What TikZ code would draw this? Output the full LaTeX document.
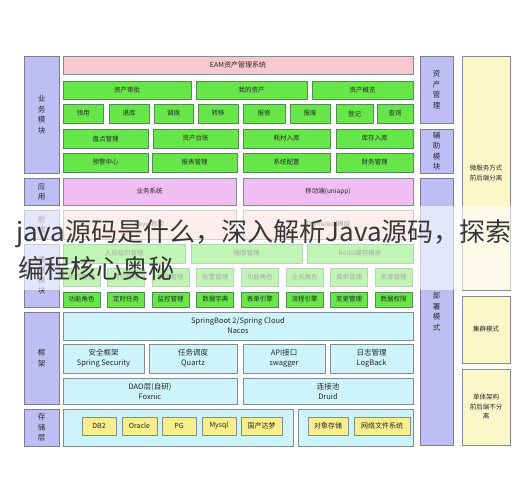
\documentclass[tikz,border=0pt]{standalone}
\usepackage{fontspec}
\setmainfont{Noto Sans CJK SC}
\usepackage{xcolor}

\definecolor{lavfill}{RGB}{190,190,245}
\definecolor{lavline}{RGB}{125,125,150}
\definecolor{grnfill}{RGB}{102,230,72}
\definecolor{grnline}{RGB}{85,140,85}
\definecolor{eampink}{RGB}{247,200,205}
\definecolor{apppink}{RGB}{240,190,242}
\definecolor{fepink}{RGB}{250,210,210}
\definecolor{cyanfill}{RGB}{205,244,250}
\definecolor{boxline}{RGB}{130,140,145}
\definecolor{yelfill}{RGB}{252,247,200}
\definecolor{dbyel}{RGB}{250,238,140}
\definecolor{txt}{RGB}{40,40,40}
\definecolor{wmtxt}{RGB}{55,55,55}

\tikzset{
  blk/.style={draw=boxline, line width=0.8pt, inner sep=0pt, align=center, text=txt,
    font=\fontsize{6.5}{8}\selectfont},
  lbl/.style={blk, fill=lavfill, draw=lavline, font=\fontsize{7.5}{10.5}\selectfont},
  grn/.style={blk, fill=grnfill, draw=grnline},
  eam/.style={blk, fill=eampink, font=\fontsize{7}{8}\selectfont},
  app/.style={blk, fill=apppink},
  fe/.style={blk, fill=fepink},
  cyn/.style={blk, fill=cyanfill, font=\fontsize{7.5}{10}\selectfont},
  yel/.style={blk, fill=yelfill, font=\fontsize{6.5}{9.5}\selectfont},
  db/.style={blk, fill=dbyel, font=\fontsize{7}{8}\selectfont},
  wm/.style={anchor=west, inner sep=0pt, text=wmtxt, font=\fontsize{26}{30}\selectfont}
}

% box from (x1,y1) to (x2,y2), in pixels of the reference
\newcommand{\blkat}[6]{\node[#1,minimum width={(#4)-(#2)},minimum height={(#5)-(#3)}] (#6) at ({((#2)+(#4))/2},{((#3)+(#5))/2})}

\begin{document}
\begin{tikzpicture}[x=1pt,y=-1pt]
\useasboundingbox (0,0) rectangle (532,490);
\fill[white] (0,0) rectangle (532,490);

% left labels
\blkat{lbl}{24}{56}{59}{173}{ywmk} {业\\务\\模\\块};
\blkat{lbl}{24}{178}{59}{205}{yy} {应\\用};
\blkat{lbl}{24}{210}{59}{239}{qd} {前\\端};
\blkat{lbl}{24}{244}{59}{307}{tymk} {通\\用\\模\\块};
\blkat{lbl}{24}{312}{59}{404}{kj} {框\\架};
\blkat{lbl}{24}{409}{59}{446}{ccc} {存\\储\\层};

% business modules
\blkat{eam}{63}{56}{413}{74}{eamxt} {EAM资产管理系统};
\foreach \a/\b/\t/\n in {63/191/资产审批/zcsp, 196/307/我的资产/wdzc, 312/413/资产概览/zcgl}
  \blkat{grn}{\a}{81}{\b}{99}{\n} {\t};
\foreach \a/\b/\t/\n in {63/103/领用/ly, 109/149/退库/tk, 154/193/调拨/db, 198/238/转移/zy,
    243/285/报修/bx, 290/330/报废/bf, 336/373/登记/dj, 377/413/查询/cx}
  \blkat{grn}{\a}{104}{\b}{123}{\n} {\t};
\foreach \a/\b/\t/\n in {63/148/盘点管理/pdgl, 153/238/资产台账/zctz, 243/330/耗材入库/hcrk, 336/413/库存入库/kcrk}
  \blkat{grn}{\a}{129}{\b}{148}{\n} {\t};
\foreach \a/\b/\t/\n in {63/148/预警中心/yjzx, 152/237/报表管理/bbgl, 243/330/系统配置/xtpz, 336/413/财务管理/cwgl}
  \blkat{grn}{\a}{153}{\b}{172}{\n} {\t};

% application and front end
\blkat{app}{63}{178}{236}{205}{ywxt} {业务系统};
\blkat{app}{243}{178}{413}{205}{ydd} {移动端(uniapp)};
\blkat{fe}{63}{210}{236}{239}{uikj} {Layui框架};
\blkat{fe}{243}{210}{413}{239}{mbyq} {Thymeleaf模版};

% common modules
\foreach \a/\b/\t/\n in {63/185/人员组织管理/ryzz, 191/302/模版管理/mbgl, 307/413/Redis缓存模块/redis}
  \blkat{grn}{\a}{244}{\b}{263}{\n} {\t};
\foreach \t [count=\i from 0] in {用户管理, 岗位管理, 权限管理, 配置管理, 功能角色, 业务角色, 菜单管理, 资源管理}
  \blkat{grn}{63+44.6*\i}{268}{100+44.6*\i}{286}{tyA\i} {\t};
\foreach \t [count=\i from 0] in {功能角色, 定时任务, 监控管理, 数据字典, 表单引擎, 流程引擎, 变更管理, 数据权限}
  \blkat{grn}{63+44.6*\i}{292}{100+44.6*\i}{307}{tyB\i} {\t};

% framework
\blkat{cyn}{63}{312}{413}{340}{spring} {SpringBoot 2/Spring Cloud\\Nacos};
\foreach \a/\b/\t/\n in {63/144/安全框架\\Spring Security/aqkj, 149/237/任务调度\\Quartz/rwdd,
    243/325/API接口\\swagger/api, 330/413/日志管理\\LogBack/rzgl}
  \blkat{cyn}{\a}{344}{\b}{373}{\n} {\t};
\blkat{cyn}{63}{378}{237}{404}{dao} {DAO层(自研)\\Foxnic};
\blkat{cyn}{243}{378}{413}{404}{ljc} {连接池\\Druid};

% storage
\blkat{cyn}{63}{409}{293}{446}{sjk} {};
\blkat{cyn}{298}{409}{413}{446}{wjcc} {};
\foreach \a/\b/\t/\n in {82/116/DB2/dbtwo, 122/157/Oracle/oracle, 162/196/PG/pg, 202/236/Mysql/mysql,
    241/282/国产达梦/dm, 308/348/对象存储/dxcc, 354/410/网络文件系统/wlwj}
  \blkat{db}{\a}{417}{\b}{435}{\n} {\t};

% right columns
\blkat{lbl}{420}{56}{453}{123}{zcgll} {资\\产\\管\\理};
\blkat{lbl}{420}{129}{453}{173}{fzmk} {辅\\助\\模\\块};
\blkat{lbl}{420}{178}{453}{445}{bsms} {部\\署\\模\\式};
\blkat{yel}{462}{56}{510}{290}{wfw} {微服务方式\\前后端分离};
\blkat{yel}{462}{296}{510}{363}{jq} {集群模式};
\blkat{yel}{462}{369}{510}{445}{dt} {单体架构\\前后端不分\\离};

% overlay band and its text
\fill[white, opacity=0.6] (0,206) rectangle (532,290);
\node[wm] (wmA) at (16,234) {java源码是什么，深入解析Java源码，探索};
\node[wm] (wmB) at (18,269) {编程核心奥秘};
\end{tikzpicture}
\end{document}
